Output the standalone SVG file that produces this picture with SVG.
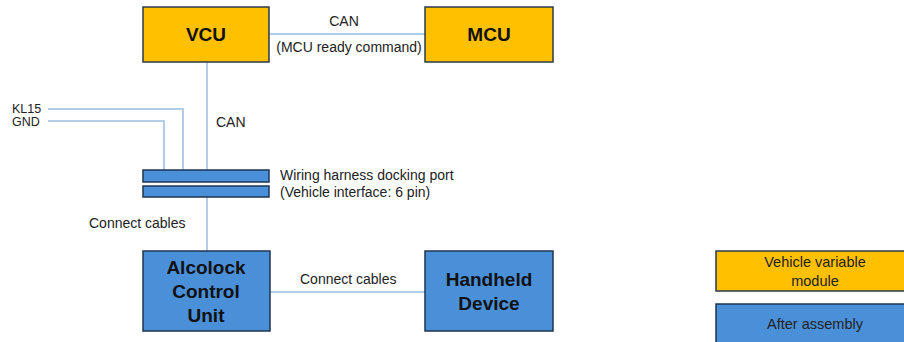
<svg xmlns="http://www.w3.org/2000/svg" width="904" height="342" viewBox="0 0 904 342">
<style>
.y{fill:#FFC000;stroke:#2b3a4a;stroke-width:1.5}
.b{fill:#4A90D9;stroke:#1f3550;stroke-width:1.5}
.t{font-family:"Liberation Sans",Arial,sans-serif;font-weight:bold;font-size:19px;fill:#111;text-anchor:middle}
.s{font-family:"Liberation Sans",Arial,sans-serif;font-size:14px;fill:#222}
.l{font-family:"Liberation Sans",Arial,sans-serif;font-size:14.5px;fill:#222;text-anchor:middle}
.c{fill:none;stroke:#9bbde0;stroke-width:1.5}
</style>
<rect width="904" height="342" fill="#fff"/>
<g id="connectors">
<line class="c" x1="269" y1="34" x2="425" y2="34"/>
<line class="c" x1="207" y1="62" x2="207" y2="170"/>
<polyline class="c" points="48,109 183,109 183,170"/>
<polyline class="c" points="48,121 164,121 164,170"/>
<line class="c" x1="207" y1="197" x2="207" y2="251"/>
<line class="c" x1="270" y1="292" x2="425" y2="292"/>
<text class="s" x="344" y="26" text-anchor="middle">CAN</text>
<text class="s" x="349" y="52" text-anchor="middle">(MCU ready command)</text>
<text class="s" x="216" y="127">CAN</text>
<text class="s" x="89" y="228">Connect cables</text>
<text class="s" x="300" y="284">Connect cables</text>
<text class="s" x="12" y="113" style="font-size:12.5px">KL15</text>
<text class="s" x="12" y="126" style="font-size:12.5px">GND</text>
</g>
<g id="vcu"><rect class="y" x="143" y="7" width="126" height="55"/><text class="t" x="206" y="41">VCU</text></g>
<g id="mcu"><rect class="y" x="425" y="7" width="128" height="55"/><text class="t" x="489" y="41">MCU</text></g>
<g id="port">
<rect class="b" x="143" y="170" width="126" height="12" stroke-width="1"/>
<rect class="b" x="143" y="186" width="126" height="11" stroke-width="1"/>
<text class="s" x="280" y="180">Wiring harness docking port</text>
<text class="s" x="280" y="197">(Vehicle interface: 6 pin)</text>
</g>
<g id="acu"><rect class="b" x="143" y="251" width="127" height="80"/>
<text class="t" x="206" y="274">Alcolock</text><text class="t" x="206" y="298">Control</text><text class="t" x="206" y="322">Unit</text></g>
<g id="handheld"><rect class="b" x="425" y="251" width="128" height="80"/>
<text class="t" x="489" y="286">Handheld</text><text class="t" x="489" y="310">Device</text></g>
<g id="legend-vehicle"><rect class="y" x="716" y="251" width="200" height="40"/>
<text class="l" x="815" y="267">Vehicle variable</text><text class="l" x="815" y="286">module</text></g>
<g id="legend-after"><rect class="b" x="716" y="304" width="200" height="50"/>
<text class="l" x="815" y="329">After assembly</text></g>
</svg>
